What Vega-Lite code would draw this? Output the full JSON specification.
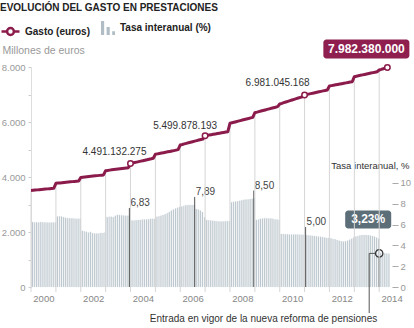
{
"$schema": "https://vega.github.io/schema/vega-lite/v6.json",
"width": 361, "height": 220,
"autosize": {"type": "none"},
"padding": {"left": 31, "top": 67, "right": 22, "bottom": 41},
"background": "white",
"title": {"text": "EVOLUCIÓN DEL GASTO EN PRESTACIONES", "anchor": "start", "frame": "group", "dx": -31, "dy": -4, "fontSize": 10, "fontWeight": "bold", "color": "#222", "offset": 4, "font": "Liberation Sans"},
"config": {
  "font": "Liberation Sans",
  "view": {"stroke": null},
  "locale": {"number": {"decimal": ",", "thousands": ".", "grouping": [3], "currency": ["", " €"]}}
},
"datasets": {
"serie": [
{"d":"2000/01/01","g":3510,"t":6.25},{"d":"2000/02/01","g":3517,"t":6.2},{"d":"2000/03/01","g":3525,"t":6.22},{"d":"2000/04/01","g":3532,"t":6.2},{"d":"2000/05/01","g":3539,"t":6.25},{"d":"2000/06/01","g":3546,"t":6.22},{"d":"2000/07/01","g":3553,"t":6.2},{"d":"2000/08/01","g":3561,"t":6.2},{"d":"2000/09/01","g":3568,"t":6.18},{"d":"2000/10/01","g":3575,"t":6.2},{"d":"2000/11/01","g":3583,"t":6.2},{"d":"2000/12/01","g":3590,"t":6.2},
{"d":"2001/01/01","g":3770,"t":6.78},{"d":"2001/02/01","g":3778,"t":6.8},{"d":"2001/03/01","g":3785,"t":6.78},{"d":"2001/04/01","g":3793,"t":6.72},{"d":"2001/05/01","g":3801,"t":6.65},{"d":"2001/06/01","g":3808,"t":6.62},{"d":"2001/07/01","g":3816,"t":6.6},{"d":"2001/08/01","g":3824,"t":6.6},{"d":"2001/09/01","g":3832,"t":6.58},{"d":"2001/10/01","g":3839,"t":6.55},{"d":"2001/11/01","g":3847,"t":6.55},{"d":"2001/12/01","g":3855,"t":6.55},
{"d":"2002/01/01","g":3985,"t":5.4},{"d":"2002/02/01","g":3993,"t":5.35},{"d":"2002/03/01","g":4001,"t":5.3},{"d":"2002/04/01","g":4010,"t":5.25},{"d":"2002/05/01","g":4018,"t":5.3},{"d":"2002/06/01","g":4026,"t":5.2},{"d":"2002/07/01","g":4034,"t":5.15},{"d":"2002/08/01","g":4042,"t":5.15},{"d":"2002/09/01","g":4050,"t":5.15},{"d":"2002/10/01","g":4059,"t":5.2},{"d":"2002/11/01","g":4067,"t":5.2},{"d":"2002/12/01","g":4075,"t":5.25},
{"d":"2003/01/01","g":4230,"t":6.72},{"d":"2003/02/01","g":4240,"t":6.75},{"d":"2003/03/01","g":4250,"t":6.75},{"d":"2003/04/01","g":4260,"t":6.72},{"d":"2003/05/01","g":4270,"t":6.85},{"d":"2003/06/01","g":4280,"t":6.95},{"d":"2003/07/01","g":4290,"t":6.92},{"d":"2003/08/01","g":4300,"t":6.9},{"d":"2003/09/01","g":4310,"t":6.88},{"d":"2003/10/01","g":4320,"t":6.85},{"d":"2003/11/01","g":4330,"t":6.85},{"d":"2003/12/01","g":4340,"t":6.83},
{"d":"2004/01/01","g":4491,"t":6.4},{"d":"2004/02/01","g":4508,"t":6.4},{"d":"2004/03/01","g":4525,"t":6.42},{"d":"2004/04/01","g":4542,"t":6.45},{"d":"2004/05/01","g":4559,"t":6.45},{"d":"2004/06/01","g":4576,"t":6.48},{"d":"2004/07/01","g":4593,"t":6.5},{"d":"2004/08/01","g":4610,"t":6.5},{"d":"2004/09/01","g":4627,"t":6.52},{"d":"2004/10/01","g":4644,"t":6.55},{"d":"2004/11/01","g":4661,"t":6.55},{"d":"2004/12/01","g":4680,"t":6.55},
{"d":"2005/01/01","g":4825,"t":6.75},{"d":"2005/02/01","g":4840,"t":6.8},{"d":"2005/03/01","g":4855,"t":6.85},{"d":"2005/04/01","g":4870,"t":6.92},{"d":"2005/05/01","g":4885,"t":7.0},{"d":"2005/06/01","g":4900,"t":7.1},{"d":"2005/07/01","g":4915,"t":7.2},{"d":"2005/08/01","g":4930,"t":7.35},{"d":"2005/09/01","g":4945,"t":7.45},{"d":"2005/10/01","g":4960,"t":7.55},{"d":"2005/11/01","g":4977,"t":7.62},{"d":"2005/12/01","g":4995,"t":7.7},
{"d":"2006/01/01","g":5164,"t":7.75},{"d":"2006/02/01","g":5184,"t":7.8},{"d":"2006/03/01","g":5204,"t":7.85},{"d":"2006/04/01","g":5224,"t":7.89},{"d":"2006/05/01","g":5243,"t":7.89},{"d":"2006/06/01","g":5263,"t":7.88},{"d":"2006/07/01","g":5283,"t":7.89},{"d":"2006/08/01","g":5303,"t":7.5},{"d":"2006/09/01","g":5323,"t":7.45},{"d":"2006/10/01","g":5343,"t":7.35},{"d":"2006/11/01","g":5362,"t":7.2},{"d":"2006/12/01","g":5382,"t":6.7},
{"d":"2007/01/01","g":5500,"t":6.45},{"d":"2007/02/01","g":5513,"t":6.42},{"d":"2007/03/01","g":5527,"t":6.4},{"d":"2007/04/01","g":5540,"t":6.38},{"d":"2007/05/01","g":5554,"t":6.35},{"d":"2007/06/01","g":5567,"t":6.32},{"d":"2007/07/01","g":5581,"t":6.3},{"d":"2007/08/01","g":5594,"t":6.3},{"d":"2007/09/01","g":5608,"t":6.3},{"d":"2007/10/01","g":5621,"t":6.32},{"d":"2007/11/01","g":5635,"t":6.32},{"d":"2007/12/01","g":5648,"t":6.35},
{"d":"2008/01/01","g":5952,"t":8.15},{"d":"2008/02/01","g":5972,"t":8.2},{"d":"2008/03/01","g":5992,"t":8.22},{"d":"2008/04/01","g":6011,"t":8.25},{"d":"2008/05/01","g":6031,"t":8.3},{"d":"2008/06/01","g":6051,"t":8.35},{"d":"2008/07/01","g":6071,"t":8.38},{"d":"2008/08/01","g":6091,"t":8.4},{"d":"2008/09/01","g":6111,"t":8.42},{"d":"2008/10/01","g":6130,"t":8.45},{"d":"2008/11/01","g":6150,"t":8.48},{"d":"2008/12/01","g":6170,"t":8.5},
{"d":"2009/01/01","g":6339,"t":6.45},{"d":"2009/02/01","g":6359,"t":6.5},{"d":"2009/03/01","g":6379,"t":6.55},{"d":"2009/04/01","g":6399,"t":6.58},{"d":"2009/05/01","g":6419,"t":6.6},{"d":"2009/06/01","g":6439,"t":6.6},{"d":"2009/07/01","g":6458,"t":6.58},{"d":"2009/08/01","g":6478,"t":6.58},{"d":"2009/09/01","g":6498,"t":6.55},{"d":"2009/10/01","g":6518,"t":6.5},{"d":"2009/11/01","g":6538,"t":6.48},{"d":"2009/12/01","g":6558,"t":6.45},
{"d":"2010/01/01","g":6655,"t":5.1},{"d":"2010/02/01","g":6679,"t":5.1},{"d":"2010/03/01","g":6703,"t":5.08},{"d":"2010/04/01","g":6727,"t":5.08},{"d":"2010/05/01","g":6751,"t":5.05},{"d":"2010/06/01","g":6775,"t":5.05},{"d":"2010/07/01","g":6800,"t":5.05},{"d":"2010/08/01","g":6824,"t":5.05},{"d":"2010/09/01","g":6848,"t":5.05},{"d":"2010/10/01","g":6872,"t":5.03},{"d":"2010/11/01","g":6896,"t":5.02},{"d":"2010/12/01","g":6920,"t":5.02},
{"d":"2011/01/01","g":6981,"t":5.0},{"d":"2011/02/01","g":6998,"t":4.98},{"d":"2011/03/01","g":7014,"t":4.95},{"d":"2011/04/01","g":7031,"t":4.92},{"d":"2011/05/01","g":7048,"t":4.9},{"d":"2011/06/01","g":7064,"t":4.88},{"d":"2011/07/01","g":7081,"t":4.85},{"d":"2011/08/01","g":7098,"t":4.82},{"d":"2011/09/01","g":7114,"t":4.8},{"d":"2011/10/01","g":7131,"t":4.75},{"d":"2011/11/01","g":7148,"t":4.72},{"d":"2011/12/01","g":7164,"t":4.7},
{"d":"2012/01/01","g":7309,"t":4.68},{"d":"2012/02/01","g":7323,"t":4.62},{"d":"2012/03/01","g":7337,"t":4.58},{"d":"2012/04/01","g":7351,"t":4.52},{"d":"2012/05/01","g":7366,"t":4.45},{"d":"2012/06/01","g":7380,"t":4.4},{"d":"2012/07/01","g":7394,"t":4.38},{"d":"2012/08/01","g":7408,"t":4.4},{"d":"2012/09/01","g":7422,"t":4.45},{"d":"2012/10/01","g":7437,"t":4.55},{"d":"2012/11/01","g":7451,"t":4.65},{"d":"2012/12/01","g":7465,"t":4.75},
{"d":"2013/01/01","g":7647,"t":4.85},{"d":"2013/02/01","g":7664,"t":4.9},{"d":"2013/03/01","g":7680,"t":4.95},{"d":"2013/04/01","g":7697,"t":5.0},{"d":"2013/05/01","g":7713,"t":5.0},{"d":"2013/06/01","g":7730,"t":5.0},{"d":"2013/07/01","g":7746,"t":4.98},{"d":"2013/08/01","g":7763,"t":4.95},{"d":"2013/09/01","g":7779,"t":4.9},{"d":"2013/10/01","g":7796,"t":4.85},{"d":"2013/11/01","g":7812,"t":4.75},{"d":"2013/12/01","g":7829,"t":4.65},
{"d":"2014/01/01","g":7890,"t":3.3},{"d":"2014/02/01","g":7913,"t":3.28},{"d":"2014/03/01","g":7936,"t":3.25},{"d":"2014/04/01","g":7959,"t":3.22},{"d":"2014/05/01","g":7982,"t":3.2}
],
"gastoMarks": [
{"d":"2004/01/01","g":4491.132275,"eur":4491132275},
{"d":"2007/01/01","g":5499.878193,"eur":5499878193},
{"d":"2011/01/01","g":6981.045168,"eur":6981045168},
{"d":"2014/05/01","g":7982.38,"eur":7982380000}
],
"tasaMarks": [
{"d":"2003/12/16","t":6.83},
{"d":"2006/08/01","t":7.89},
{"d":"2008/12/16","t":8.5},
{"d":"2011/01/16","t":5.0}
],
"reforma": [
{"d":"2014/01/01","t":3.23,"lab":"3,23%","nota":"Entrada en vigor de la nueva reforma de pensiones"}
]
},
"encoding": {
  "x": {"field": "d", "type": "temporal", "title": null,
    "scale": {"domain": [{"year":2000,"month":1,"date":1},{"year":2014,"month":7,"date":8}]},
    "axis": {"tickCount": {"interval": "year", "step": 2}, "format": "%Y", "orient": "bottom",
      "labelOffset": 12.4, "ticks": false, "domain": false, "grid": false,
      "labelColor": "#888888", "labelFontSize": 9.5, "labelPadding": 6, "labelFlush": false, "labelOverlap": false}}
},
"layer": [
  {"data": {"name": "serie"},
   "mark": {"type": "bar", "timeUnitBandSize": 1, "stroke": "#dfe4e7", "strokeWidth": 0.35},
   "encoding": {
     "x": {"field": "d", "type": "temporal", "timeUnit": "yearmonth", "title": null,
       "scale": {"domain": [{"year":2000,"month":1,"date":1},{"year":2014,"month":7,"date":8}]},
       "axis": {"tickCount": {"interval": "year", "step": 2}, "format": "%Y", "orient": "bottom",
         "labelOffset": 12.4, "ticks": false, "domain": false, "grid": false,
         "labelColor": "#888888", "labelFontSize": 9.5, "labelPadding": 6, "labelFlush": false, "labelOverlap": false}},
     "y": {"field": "t", "type": "quantitative", "scale": {"domain": [0, 21.15], "nice": false},
       "axis": {"orient": "right", "values": [0,2,4,6,8,10], "tickSize": 6, "tickColor": "#aaaaaa", "domain": false, "grid": false,
         "labelColor": "#999999", "labelFontSize": 9.5, "labelPadding": 2,
         "title": "Tasa interanual, %", "titleAngle": 0, "titleAlign": "right", "titleBaseline": "middle",
         "titleX": 17, "titleY": 98, "titleFontWeight": "normal", "titleColor": "#333333", "titleFontSize": 9.5}},
     "fill": {"datum": "Tasa interanual (%)", "scale": {"range": ["#b1bdc5"]},
       "legend": {"orient": "none", "legendX": 70, "legendY": -46, "title": null,
         "symbolType": "M-1,1H-0.55V-1H-1Z M-0.2,1H0.25V-0.15H-0.2Z M0.6,1H1V0.45H0.6Z",
         "symbolSize": 196, "symbolStrokeWidth": 0, "labelFontSize": 10, "labelFontWeight": "bold",
         "labelColor": "#222222", "labelOffset": 5, "padding": 0}}
   }},
  {"data": {"name": "tasaMarks"},
   "mark": {"type": "rule", "color": "#555555", "strokeWidth": 1, "yOffset": -8},
   "encoding": {
     "y": {"field": "t", "type": "quantitative", "scale": {"domain": [0, 21.15], "nice": false}, "axis": null},
     "y2": {"datum": 0}}},
  {"data": {"name": "tasaMarks"},
   "mark": {"type": "text", "align": "left", "baseline": "middle", "dx": 1, "dy": -13, "fontSize": 10, "color": "#444444"},
   "encoding": {
     "y": {"field": "t", "type": "quantitative", "scale": {"domain": [0, 21.15], "nice": false}, "axis": null},
     "text": {"field": "t", "type": "quantitative", "format": ".2f"}}},
  {"data": {"name": "reforma"},
   "mark": {"type": "rule", "color": "#555555", "strokeWidth": 1, "xOffset": -10, "y2Offset": 26},
   "encoding": {
     "y": {"field": "t", "type": "quantitative", "scale": {"domain": [0, 21.15], "nice": false}, "axis": null},
     "y2": {"datum": 0}}},
  {"data": {"name": "reforma"},
   "mark": {"type": "rule", "color": "#555555", "strokeWidth": 1, "xOffset": -10, "x2Offset": -4},
   "encoding": {
     "x2": {"field": "d"},
     "y": {"field": "t", "type": "quantitative", "scale": {"domain": [0, 21.15], "nice": false}, "axis": null}}},
  {"data": {"name": "reforma"},
   "mark": {"type": "rule", "color": "#555555", "strokeWidth": 1, "yOffset": 4},
   "encoding": {
     "y": {"field": "t", "type": "quantitative", "scale": {"domain": [0, 21.15], "nice": false}, "axis": null},
     "y2": {"datum": 0}}},
  {"data": {"name": "reforma"},
   "mark": {"type": "point", "shape": "circle", "size": 55, "filled": false, "stroke": "#333333", "strokeWidth": 1.2, "opacity": 1},
   "encoding": {
     "y": {"field": "t", "type": "quantitative", "scale": {"domain": [0, 21.15], "nice": false}, "axis": null}}},
  {"data": {"name": "reforma"},
   "mark": {"type": "rect", "fill": "#5c6e78", "cornerRadius": 3, "xOffset": -34, "x2Offset": 12, "yOffset": -43, "y2Offset": -25},
   "encoding": {
     "x2": {"field": "d"},
     "y": {"field": "t", "type": "quantitative", "scale": {"domain": [0, 21.15], "nice": false}, "axis": null},
     "y2": {"field": "t"}}},
  {"data": {"name": "reforma"},
   "mark": {"type": "text", "align": "center", "baseline": "middle", "dx": -11, "dy": -34, "fontSize": 12, "fontWeight": "bold", "color": "#ffffff"},
   "encoding": {
     "y": {"field": "t", "type": "quantitative", "scale": {"domain": [0, 21.15], "nice": false}, "axis": null},
     "text": {"field": "lab"}}},
  {"data": {"name": "reforma"},
   "mark": {"type": "text", "align": "right", "baseline": "middle", "dx": -2, "dy": 32, "fontSize": 10, "color": "#333333"},
   "encoding": {
     "y": {"datum": 0, "type": "quantitative", "scale": {"domain": [0, 21.15], "nice": false}, "axis": null},
     "text": {"field": "nota"}}},
  {"data": {"name": "serie"},
   "transform": [{"filter": "month(datum.d) == 0"}],
   "mark": {"type": "rule", "color": "#d6d6d6", "strokeWidth": 1, "y2Offset": 5},
   "encoding": {
     "y": {"field": "g", "type": "quantitative", "scale": {"domain": [0, 8000], "nice": false},
       "axis": {"orient": "left", "values": [0,1000,2000,3000,4000,5000,6000,7000,8000], "format": ",d",
         "labelExpr": "datum.value % 2000 == 0 ? datum.label : ''",
         "tickSize": 3, "tickColor": "#cccccc", "domain": true, "domainColor": "#dddddd", "grid": false,
         "labelColor": "#999999", "labelFontSize": 9.5, "labelPadding": 3,
         "title": "Millones de euros", "titleAngle": 0, "titleAlign": "left", "titleBaseline": "middle",
         "titleX": -29, "titleY": -17, "titleFontWeight": "normal", "titleColor": "#999999", "titleFontSize": 10.5}},
     "y2": {"datum": 0}}},
  {"data": {"name": "serie"},
   "mark": {"type": "line", "strokeWidth": 3, "strokeJoin": "round"},
   "encoding": {
     "y": {"field": "g", "type": "quantitative", "scale": {"domain": [0, 8000], "nice": false}, "axis": null},
     "stroke": {"datum": "Gasto (euros)", "scale": {"range": ["#8b1b4b"]},
       "legend": {"orient": "none", "legendX": -31, "legendY": -46, "title": null,
         "symbolType": "M-1,0H-0.38 M0.38,0H1 M-0.38,0A0.38,0.38 0 1,0 0.38,0A0.38,0.38 0 1,0 -0.38,0",
         "symbolSize": 324, "symbolStrokeWidth": 2.5, "symbolFillColor": "#ffffff",
         "labelFontSize": 10, "labelFontWeight": "bold", "labelColor": "#222222", "labelOffset": 4, "padding": 0}}
   }},
  {"data": {"name": "gastoMarks"},
   "mark": {"type": "point", "shape": "circle", "filled": true, "fill": "#ffffff", "stroke": "#8b1b4b", "strokeWidth": 1.5, "size": 30, "opacity": 1},
   "encoding": {
     "y": {"field": "g", "type": "quantitative", "scale": {"domain": [0, 8000], "nice": false}, "axis": null}}},
  {"data": {"name": "gastoMarks"},
   "transform": [{"filter": {"field": "eur", "equal": 4491132275}}],
   "mark": {"type": "text", "align": "center", "baseline": "middle", "dx": -16, "dy": -11, "fontSize": 10, "color": "#333333"},
   "encoding": {
     "y": {"field": "g", "type": "quantitative", "scale": {"domain": [0, 8000], "nice": false}, "axis": null},
     "text": {"field": "eur", "type": "quantitative", "format": ",d"}}},
  {"data": {"name": "gastoMarks"},
   "transform": [{"filter": {"field": "eur", "equal": 5499878193}}],
   "mark": {"type": "text", "align": "center", "baseline": "middle", "dx": -20, "dy": -10, "fontSize": 10, "color": "#333333"},
   "encoding": {
     "y": {"field": "g", "type": "quantitative", "scale": {"domain": [0, 8000], "nice": false}, "axis": null},
     "text": {"field": "eur", "type": "quantitative", "format": ",d"}}},
  {"data": {"name": "gastoMarks"},
   "transform": [{"filter": {"field": "eur", "equal": 6981045168}}],
   "mark": {"type": "text", "align": "center", "baseline": "middle", "dx": -27, "dy": -12, "fontSize": 10, "color": "#333333"},
   "encoding": {
     "y": {"field": "g", "type": "quantitative", "scale": {"domain": [0, 8000], "nice": false}, "axis": null},
     "text": {"field": "eur", "type": "quantitative", "format": ",d"}}},
  {"data": {"name": "gastoMarks"},
   "transform": [{"filter": {"field": "eur", "equal": 7982380000}}],
   "mark": {"type": "rect", "fill": "#8e1f4f", "cornerRadius": 3, "xOffset": -64, "x2Offset": 22, "yOffset": -28, "y2Offset": -9},
   "encoding": {
     "x2": {"field": "d"},
     "y": {"field": "g", "type": "quantitative", "scale": {"domain": [0, 8000], "nice": false}, "axis": null},
     "y2": {"field": "g"}}},
  {"data": {"name": "gastoMarks"},
   "transform": [{"filter": {"field": "eur", "equal": 7982380000}}],
   "mark": {"type": "text", "align": "center", "baseline": "middle", "dx": -21, "dy": -18.5, "fontSize": 12, "fontWeight": "bold", "color": "#ffffff"},
   "encoding": {
     "y": {"field": "g", "type": "quantitative", "scale": {"domain": [0, 8000], "nice": false}, "axis": null},
     "text": {"field": "eur", "type": "quantitative", "format": ",d"}}}
],
"resolve": {"scale": {"y": "independent"}, "axis": {"y": "independent"}}
}
